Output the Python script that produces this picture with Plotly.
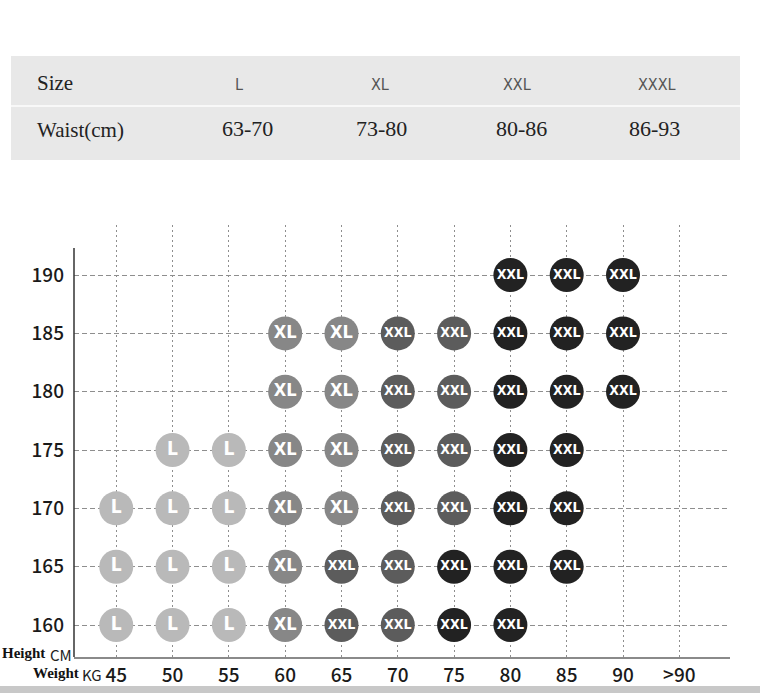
import plotly.graph_objects as go

# size table at the top
table_sizes = ["L", "XL", "XXL", "XXXL"]
table_waist = ["63-70", "73-80", "80-86", "86-93"]

# chart axes
weights = ["45", "50", "55", "60", "65", "70", "75", "80", "85", "90", ">90"]
heights = [160, 165, 170, 175, 180, 185, 190]

# size per weight column, one list per height (0 = none, 1 = L, 2 = XL, 3 = XXL, 4 = XXL dark)
row_190 = [0, 0, 0, 0, 0, 0, 0, 4, 4, 4, 0]
row_185 = [0, 0, 0, 2, 2, 3, 3, 4, 4, 4, 0]
row_180 = [0, 0, 0, 2, 2, 3, 3, 4, 4, 4, 0]
row_175 = [0, 1, 1, 2, 2, 3, 3, 4, 4, 0, 0]
row_170 = [1, 1, 1, 2, 2, 3, 3, 4, 4, 0, 0]
row_165 = [1, 1, 1, 2, 3, 3, 4, 4, 4, 0, 0]
row_160 = [1, 1, 1, 2, 3, 3, 4, 4, 0, 0, 0]
rows = {190: row_190, 185: row_185, 180: row_180, 175: row_175,
        170: row_170, 165: row_165, 160: row_160}

level_label = {1: "L", 2: "XL", 3: "XXL", 4: "XXL"}
level_color = {1: "#b9b9b9", 2: "#878787", 3: "#5c5c5c", 4: "#222222"}
level_textsize = {1: 19, 2: 18, 3: 14, 4: 14}

W, H = 760, 693
# plot area in pixels
L_PX, R_PX, T_PX, B_PX = 74, 730, 225, 657


def fx(px):
    return (px - L_PX) / (R_PX - L_PX)


def fy(py):
    return (B_PX - py) / (B_PX - T_PX)


fig = go.Figure()

for lvl in [1, 2, 3, 4]:
    xs, ys = [], []
    for h in heights:
        for w, v in zip(weights, rows[h]):
            if v == lvl:
                xs.append(w)
                ys.append(h)
    fig.add_trace(go.Scatter(
        x=xs, y=ys, mode="markers+text",
        text=[level_label[lvl]] * len(xs),
        textposition="middle center",
        marker=dict(size=34, color=level_color[lvl], line=dict(width=0)),
        textfont=dict(color="white", size=level_textsize[lvl],
                      family="Liberation Sans Narrow, DejaVu Sans Condensed, Arial",
                      weight="bold"),
        hoverinfo="skip", showlegend=False, cliponaxis=False,
    ))

tick_font = dict(family="Noto Sans CJK SC, Noto Sans", size=19, color="#1a1a1a", weight=500)

fig.update_xaxes(
    type="category", categoryorder="array", categoryarray=weights,
    range=[-0.75, 10.9],
    showgrid=True, gridcolor="#8e8e8e", griddash="2px,3px", gridwidth=1,
    showline=True, linecolor="#8a8a8a", linewidth=1.5,
    ticks="", ticklabelstandoff=0, automargin=False,
    tickfont=tick_font,
    zeroline=False, fixedrange=True,
)
fig.update_yaxes(
    range=[157.26, 194.29], tickvals=heights,
    showgrid=True, gridcolor="#8e8e8e", griddash="5px,3px", gridwidth=1,
    showline=False, ticks="", ticklabelstandoff=9, automargin=False,
    tickfont=tick_font,
    zeroline=False, fixedrange=True,
)

shapes = [
    # table background + separator
    dict(type="rect", xref="paper", yref="paper", x0=fx(11), x1=fx(740), y0=fy(160), y1=fy(56),
         fillcolor="#e8e8e8", line=dict(width=0), layer="below"),
    dict(type="line", xref="paper", yref="paper", x0=fx(11), x1=fx(740), y0=fy(106), y1=fy(106),
         line=dict(color="#f8f8f8", width=2)),
    # left axis line
    dict(type="line", xref="paper", yref="paper", x0=0, x1=0, y0=0, y1=fy(248),
         line=dict(color="#333", width=1.5)),
    # bottom grey band
    dict(type="rect", xref="paper", yref="paper", x0=fx(0), x1=fx(760), y0=fy(693), y1=fy(686),
         fillcolor="#c8c8c8", line=dict(width=0)),
]

serif = "Liberation Serif, Times New Roman"
ann = [
    dict(text="Size", x=fx(35), y=fy(83), xanchor="left",
         font=dict(family=serif, size=21, color="#222")),
    dict(text="Waist(cm)", x=fx(35), y=fy(130), xanchor="left",
         font=dict(family=serif, size=21, color="#222")),
    dict(text="<b>Height</b>", x=fx(0), y=fy(653), xanchor="left",
         font=dict(family=serif, size=15, color="#111")),
    dict(text="CM", x=fx(48), y=fy(654), xanchor="left",
         font=dict(family="Noto Sans CJK SC, Noto Sans", size=15, color="#222")),
    dict(text="<b>Weight</b>", x=fx(31), y=fy(673), xanchor="left",
         font=dict(family=serif, size=15, color="#111")),
    dict(text="KG", x=fx(80), y=fy(674), xanchor="left",
         font=dict(family="Noto Sans CJK SC, Noto Sans", size=15, color="#222")),
]
for s, cx in zip(table_sizes, [239, 380, 517, 657]):
    ann.append(dict(text=s, x=fx(cx), y=fy(84), xanchor="center",
                    font=dict(family="DejaVu Sans Condensed, Noto Sans", size=16, color="#555")))
for wv, cx in zip(table_waist, [247, 381, 521, 654]):
    ann.append(dict(text=wv, x=fx(cx), y=fy(128), xanchor="center",
                    font=dict(family=serif, size=22, color="#222")))
for a in ann:
    a.update(xref="paper", yref="paper", showarrow=False, yanchor="middle")

fig.update_layout(
    width=W, height=H,
    margin=dict(l=L_PX, r=W - R_PX, t=T_PX, b=H - B_PX),
    paper_bgcolor="white", plot_bgcolor="white",
    shapes=shapes, annotations=ann, hovermode=False,
)

# drop the default 8px page margin so the figure fills the window exactly
fig.write_html("out.html", config={"displayModeBar": False},
               post_script="document.body.style.margin='0';")
